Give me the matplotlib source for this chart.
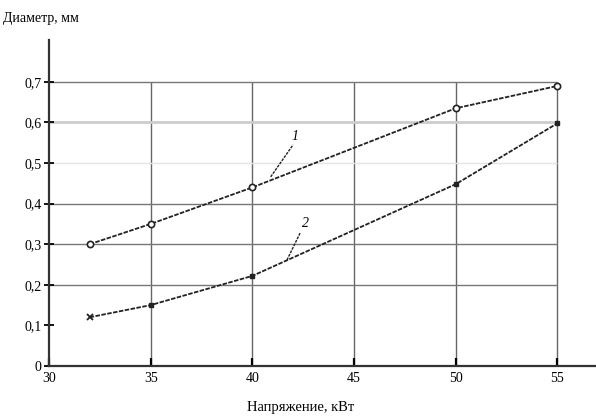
import numpy as np
import matplotlib
matplotlib.use("Agg")
from matplotlib import pyplot as plt

plt.rcParams['font.family'] = ['Liberation Serif', 'DejaVu Serif']

# напряжение, кВт
volt = [32, 35, 40, 50, 55]
# диаметр, мм
diam1 = [0.30, 0.35, 0.44, 0.635, 0.69]
diam2 = [0.12, 0.15, 0.222, 0.448, 0.598]

xticks = [30, 35, 40, 45, 50, 55]
yticks = [0, 0.1, 0.2, 0.3, 0.4, 0.5, 0.6, 0.7]
ylabels = ['0', '0,1', '0,2', '0,3', '0,4', '0,5', '0,6', '0,7']

fig = plt.figure(figsize=(5.96, 4.2), dpi=100)
ax = fig.add_axes([0.0822, 0.1286, 0.918, 0.776])
ax.set_xlim(30, 56.9)
ax.set_ylim(0, 0.803)

# сетка
ax.vlines([35, 40, 45, 50, 55], 0, 0.7, colors='#666666', lw=1.0, zorder=1)
ax.hlines([0.2, 0.3, 0.4, 0.7], 30, 55, colors='#777777', lw=1.0, zorder=1)
ax.hlines([0.6], 30, 55, colors='#cccccc', lw=2.0, zorder=1)
ax.hlines([0.5], 30, 55, colors='#e4e4e4', lw=1.0, zorder=1)

dash = (0, (2.5, 0.8))
ax.plot(volt, diam1, color='#222222', lw=1.3, linestyle=dash, zorder=3)
ax.plot(volt, diam1, linestyle='none', marker='o', ms=4.5, mfc='white',
        mec='#222222', mew=1.2, zorder=4)
ax.plot(volt, diam2, color='#222222', lw=1.3, linestyle=dash, zorder=3)
ax.plot(volt[1:], diam2[1:], linestyle='none', marker='s', ms=3, color='#222222', zorder=4)
ax.plot(volt[:1], diam2[:1], linestyle='none', marker='x', ms=4, mew=1.3, color='#222222', zorder=4)

# номера кривых
ax.plot([40.9, 42.0], [0.466, 0.545], color='#222222', lw=1.0, linestyle=(0, (2, 0.8)))
ax.text(42.1, 0.565, '1', fontsize=10, style='italic', ha='center', va='center')
ax.plot([41.7, 42.35], [0.261, 0.328], color='#222222', lw=1.0, linestyle=(0, (2, 0.8)))
ax.text(42.6, 0.352, '2', fontsize=10, style='italic', ha='center', va='center')

for s in ['top', 'right']:
    ax.spines[s].set_visible(False)
for s in ['left', 'bottom']:
    ax.spines[s].set_linewidth(1.6)
    ax.spines[s].set_color('#333333')

ax.set_xticks(xticks)
ax.set_xticklabels([str(v) for v in xticks])
ax.set_yticks(yticks)
ax.set_yticklabels(ylabels)
ax.tick_params(axis='y', direction='inout', length=7, width=1.3, labelsize=10, pad=2)
ax.tick_params(axis='x', direction='in', length=6, width=1.6, labelsize=10, pad=4)

fig.text(0.005, 0.955, 'Диаметр, мм', fontsize=10, ha='left', va='center')
fig.text(0.505, 0.03, 'Напряжение, кВт', fontsize=10.5, ha='center', va='center')

fig.savefig('out.png', dpi=100)
